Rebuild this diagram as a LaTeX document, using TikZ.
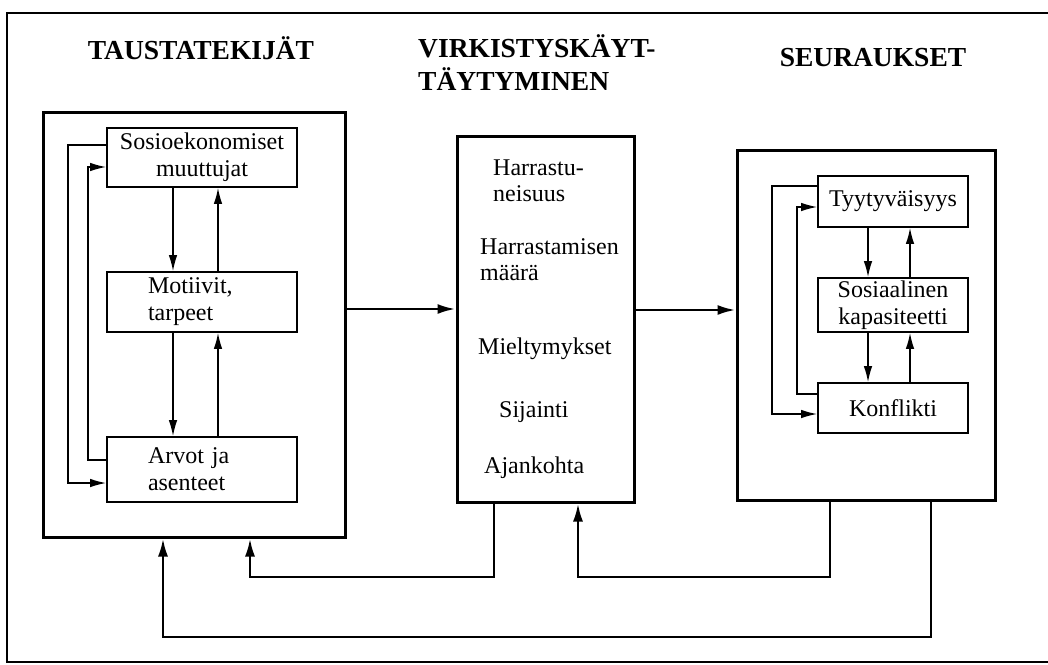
\documentclass[tikz,border=0pt]{standalone}
\usepackage{fontspec}
\setmainfont{Liberation Serif}
\usetikzlibrary{arrows.meta}
\begin{document}
\begin{tikzpicture}[x=1pt,y=-1pt,
  bigbox/.style={draw, line width=3pt, inner sep=0pt},
  smallbox/.style={draw, line width=1.6pt, inner sep=0pt, align=center,
    font=\fontsize{24}{27}\selectfont},
  lbox/.style={draw, line width=1.6pt, inner ysep=0pt, inner xsep=41pt,
    text width=108pt, align=left, font=\fontsize{24}{27}\selectfont},
  title/.style={font=\fontsize{27.5}{33}\selectfont\bfseries, inner sep=0pt},
  mtext/.style={font=\fontsize{24}{27}\selectfont, inner sep=0pt, anchor=base west},
  bigcon/.style={line width=2.6pt, -{Latex[length=18pt,width=10pt]}},
  smallcon/.style={line width=1.5pt, -{Latex[length=16pt,width=8.5pt]}},
]
\useasboundingbox (0,0) rectangle (1048,664);
% outer frame
\draw[line width=2pt] (1048,13) -- (7,13) -- (7,662) -- (1048,662);

% titles
\node[title, anchor=base] (t1) at (201,59) {TAUSTATEKIJÄT};
\node[title, anchor=base west] (t2a) at (418,57) {VIRKISTYSKÄYT-};
\node[title, anchor=base west] (t2b) at (418,90) {TÄYTYMINEN};
\node[title, anchor=base] (t3) at (873,66) {SEURAUKSET};

% big boxes
\node[bigbox, minimum width=302pt, minimum height=425pt] (L) at (194,324.5) {};
\node[bigbox, minimum width=177pt, minimum height=366pt] (M) at (545.5,319) {};
\node[bigbox, minimum width=258pt, minimum height=350pt] (R) at (866,325) {};

% left inner boxes
\node[smallbox, minimum width=190pt, minimum height=59pt] (S1) at (202,157.5) {Sosioekonomiset\\muuttujat};
\node[lbox, minimum height=60pt] (S2) at (202,302) {Motiivit,\\tarpeet};
\node[lbox, minimum height=65pt] (S3) at (202,469.5) {Arvot ja\\asenteet};

% right inner boxes
\node[smallbox, minimum width=150pt, minimum height=51pt] (T1) at (893,201.5) {Tyytyväisyys};
\node[smallbox, minimum width=150pt, minimum height=54pt] (T2) at (893,305) {Sosiaalinen\\kapasiteetti};
\node[smallbox, minimum width=150pt, minimum height=50pt] (T3) at (893,408) {Konflikti};

% middle texts
\node[mtext] (m1a) at (493,175) {Harrastu-};
\node[mtext] (m1b) at (493,201) {neisuus};
\node[mtext] (m2a) at (480,254) {Harrastamisen};
\node[mtext] (m2b) at (480,280) {määrä};
\node[mtext] (m3) at (478,354) {Mieltymykset};
\node[mtext] (m4) at (499,417) {Sijainti};
\node[mtext] (m5) at (484,473) {Ajankohta};

% helper coordinates
\coordinate (yA) at (0,309);
\coordinate (yB) at (0,310);
\coordinate (c1) at (494,577);
\coordinate (c2) at (250,577);
\coordinate (c3) at (830,577);
\coordinate (c4) at (578,577);
\coordinate (c5) at (931,637);
\coordinate (c6) at (163,637);
\coordinate (xd) at (173,0);
\coordinate (xu) at (218,0);
\coordinate (lo1) at (68,145);
\coordinate (lo2) at (68,483);
\coordinate (li1) at (88,460);
\coordinate (li2) at (88,167);
\coordinate (rxd) at (868,0);
\coordinate (rxu) at (910,0);
\coordinate (ro1) at (772,186);
\coordinate (ro2) at (772,414);
\coordinate (ri1) at (797,394);
\coordinate (ri2) at (797,207);

% main flow
\draw[bigcon] (L.east |- yA) -- (M.west |- yA);
\draw[bigcon] (M.east |- yB) -- (R.west |- yB);

% feedback connectors
\draw[bigcon] (M.south -| c1) -- (c1) -- (c2) -- (L.south -| c2);
\draw[bigcon] (R.south -| c3) -- (c3) -- (c4) -- (M.south -| c4);
\draw[bigcon] (R.south -| c5) -- (c5) -- (c6) -- (L.south -| c6);

% left inner arrows
\draw[smallcon] (S1.south -| xd) -- (S2.north -| xd);
\draw[smallcon] (S2.north -| xu) -- (S1.south -| xu);
\draw[smallcon] (S2.south -| xd) -- (S3.north -| xd);
\draw[smallcon] (S3.north -| xu) -- (S2.south -| xu);
\draw[smallcon] (S1.west |- lo1) -- (lo1) -- (lo2) -- (S3.west |- lo2);
\draw[smallcon] (S3.west |- li1) -- (li1) -- (li2) -- (S1.west |- li2);

% right inner arrows
\draw[smallcon] (T1.south -| rxd) -- (T2.north -| rxd);
\draw[smallcon] (T2.north -| rxu) -- (T1.south -| rxu);
\draw[smallcon] (T2.south -| rxd) -- (T3.north -| rxd);
\draw[smallcon] (T3.north -| rxu) -- (T2.south -| rxu);
\draw[smallcon] (T1.west |- ro1) -- (ro1) -- (ro2) -- (T3.west |- ro2);
\draw[smallcon] (T3.west |- ri1) -- (ri1) -- (ri2) -- (T1.west |- ri2);
\end{tikzpicture}
\end{document}
